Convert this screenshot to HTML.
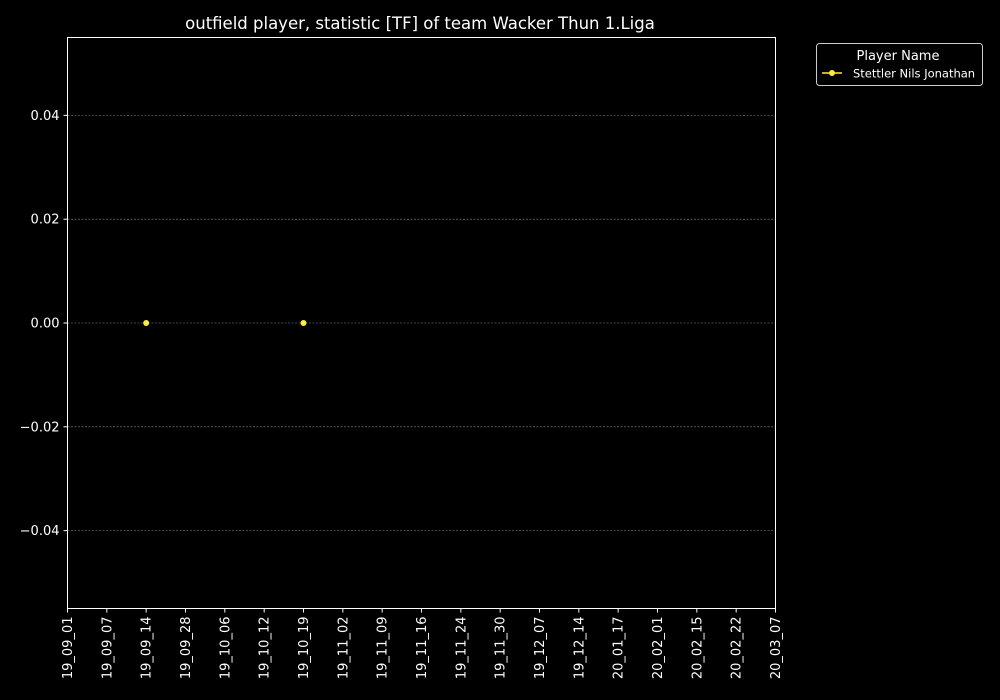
<!DOCTYPE html>
<html><head><meta charset="utf-8"><style>
html,body{margin:0;padding:0;background:#000;overflow:hidden;width:1000px;height:700px;}
svg{display:block;}
svg text{font-family:"DejaVu Sans","Liberation Sans",sans-serif;fill:#fff;}
</style></head><body>
<svg id="chart" width="1000" height="700" xmlns="http://www.w3.org/2000/svg">
<rect width="1000" height="700" fill="#000"/>
<text x="420" y="29" font-size="16.5" text-anchor="middle">outfield player, statistic [TF] of team Wacker Thun 1.Liga</text>
<g id="grid"></g><g id="xt"></g><g id="yt"></g><g id="pts"></g>
<rect x="67.5" y="37.5" width="708" height="571" fill="none" stroke="#fff" stroke-width="1"/>
<g>
<rect x="816.5" y="43.5" width="166" height="42" rx="3" fill="#000" stroke="#ccc"/>
<text x="898" y="60" font-size="13" text-anchor="middle">Player Name</text>
<line x1="822" y1="73" x2="842" y2="73" stroke="#ffeb3b" stroke-width="1.5"/>
<circle cx="832" cy="73" r="3" fill="#ffeb3b"/>
<text x="853" y="77.5" font-size="11.5">Stettler Nils Jonathan</text>
</g>
</svg>
<script>
const categories=["19_09_01","19_09_07","19_09_14","19_09_28","19_10_06","19_10_12","19_10_19","19_11_02","19_11_09","19_11_16","19_11_24","19_11_30","19_12_07","19_12_14","20_01_17","20_02_01","20_02_15","20_02_22","20_03_07"];
const pointDates=["19_09_14","19_10_19"];
const pointValues=[0,0];
const yTicks=[-0.04,-0.02,0.00,0.02,0.04];
const yTickLabels=["\u22120.04","\u22120.02","0.00","0.02","0.04"];
const yMin=-0.055,yMax=0.055;
const NS="http://www.w3.org/2000/svg";
const X0=67.5,X1=775.5,Y0=37.5,Y1=608.5;
function xs(i){return X0+(X1-X0)*i/(categories.length-1);}
function ys(v){return Y1-(Y1-Y0)*(v-yMin)/(yMax-yMin);}
function mk(t,a,p){const e=document.createElementNS(NS,t);for(const k in a)e.setAttribute(k,a[k]);document.getElementById(p).appendChild(e);return e;}
yTicks.forEach((v,i)=>{
 const y=ys(v);
 const g=mk("line",{x1:X0,x2:X1,y1:y,y2:y,stroke:"#888","stroke-width":0.6,"stroke-dasharray":"2,1.5"},"grid");
 
 
 const t=mk("line",{x1:X0-4,x2:X0,y1:y,y2:y,stroke:"#fff"},"yt");
 
 
 const l=mk("text",{x:X0-8,y:y+4.5,"font-size":13,"text-anchor":"end"},"yt");
 l.textContent=yTickLabels[i];
 
 
});
categories.forEach((c,i)=>{
 const x=xs(i);
 const t=mk("line",{x1:x,x2:x,y1:Y1,y2:Y1+4,stroke:"#fff"},"xt");
 
 
 const l=mk("text",{x:0,y:0,"font-size":13,"text-anchor":"end",transform:`translate(${x+4.5},${Y1+8}) rotate(-90)`},"xt");
 l.textContent=c;
 
 
});
pointDates.forEach((d,i)=>{
 const p=mk("circle",{cx:xs(categories.indexOf(d)),cy:ys(pointValues[i]),r:3,fill:"#ffeb3b"},"pts");
 
 
});
</script>
</body></html>
